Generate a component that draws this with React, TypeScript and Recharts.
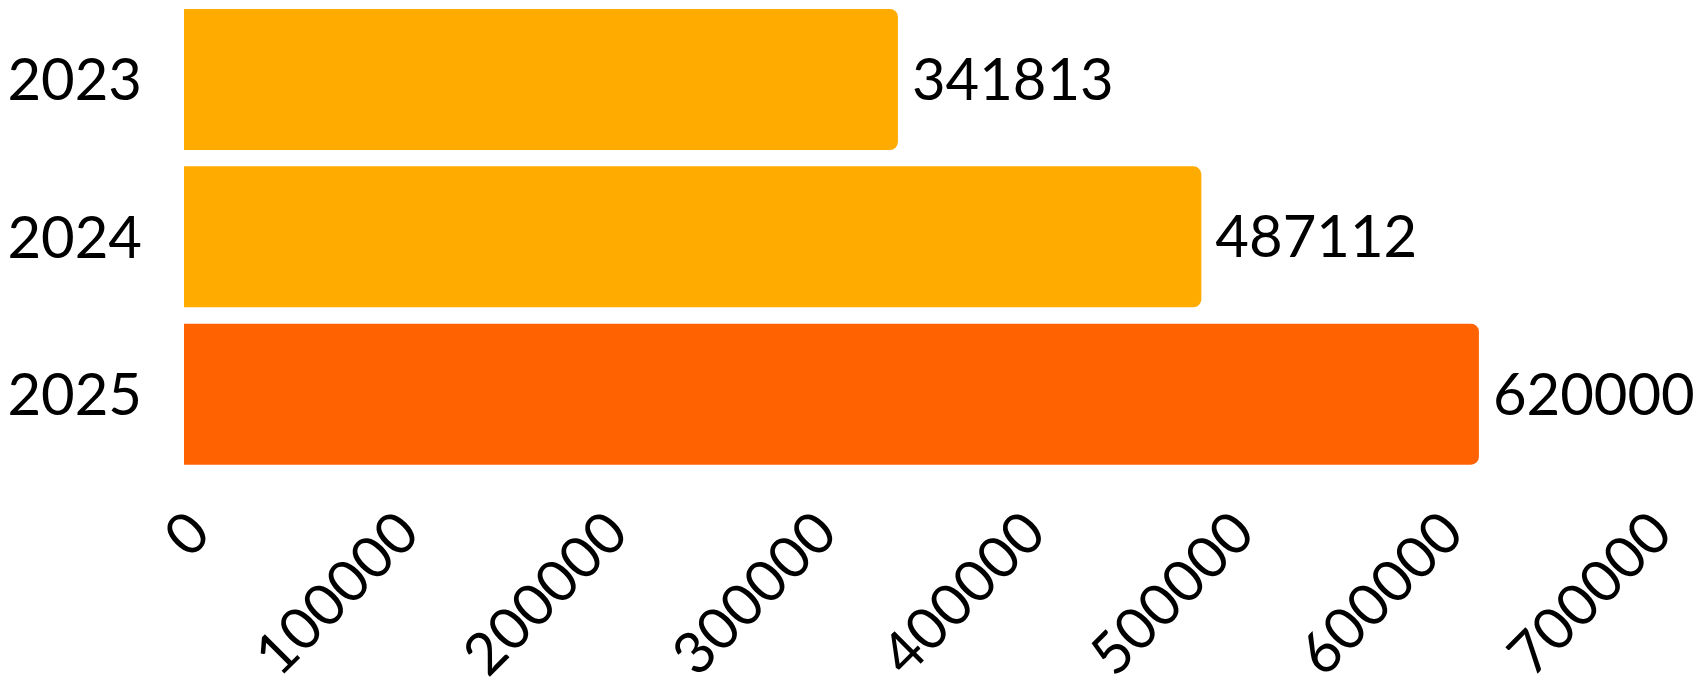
import { BarChart, Bar, XAxis, YAxis, Cell, LabelList } from "recharts"

const years = ["2023", "2024", "2025"]
const visitors = [341813, 487112, 620000]
const xTicks = [0, 100000, 200000, 300000, 400000, 500000, 600000, 700000]
const highlightYear = "2025"

const BASE_COLOR = "#ffab00"
const HIGHLIGHT_COLOR = "#ff6200"
const FONT = "Lato, 'Noto Sans', sans-serif"

const data = years.map((year, i) => ({ year, value: visitors[i] }))

export default function App() {
  return (
    <div style={{ width: 1704, height: 682 }}>
      <style>{"body { margin: 0; }"}</style>
      <BarChart
        width={1704}
        height={682}
        data={data}
        layout="vertical"
        margin={{ top: 1, right: 58, bottom: 0, left: 0 }}
        barSize={141}
      >
        <XAxis
          type="number"
          domain={[0, 700000]}
          ticks={xTicks}
          interval={0}
          axisLine={false}
          tickLine={false}
          tickSize={0}
          tickMargin={34}
          height={209}
          angle={-45}
          textAnchor="end"
          tick={{ fill: "#000", fontSize: 58, fontFamily: FONT }}
        />
        <YAxis
          type="category"
          dataKey="year"
          width={184}
          axisLine={false}
          tickLine={false}
          tickSize={0}
          tickMargin={42}
          tick={{ fill: "#000", fontSize: 58, fontFamily: FONT }}
        />
        <Bar dataKey="value" radius={[0, 8, 8, 0]} isAnimationActive={false}>
          {data.map((d) => (
            <Cell key={d.year} fill={d.year === highlightYear ? HIGHLIGHT_COLOR : BASE_COLOR} />
          ))}
          <LabelList
            dataKey="value"
            position="right"
            offset={14}
            fill="#000"
            style={{ fontSize: 58, fontFamily: FONT }}
          />
        </Bar>
      </BarChart>
    </div>
  )
}
